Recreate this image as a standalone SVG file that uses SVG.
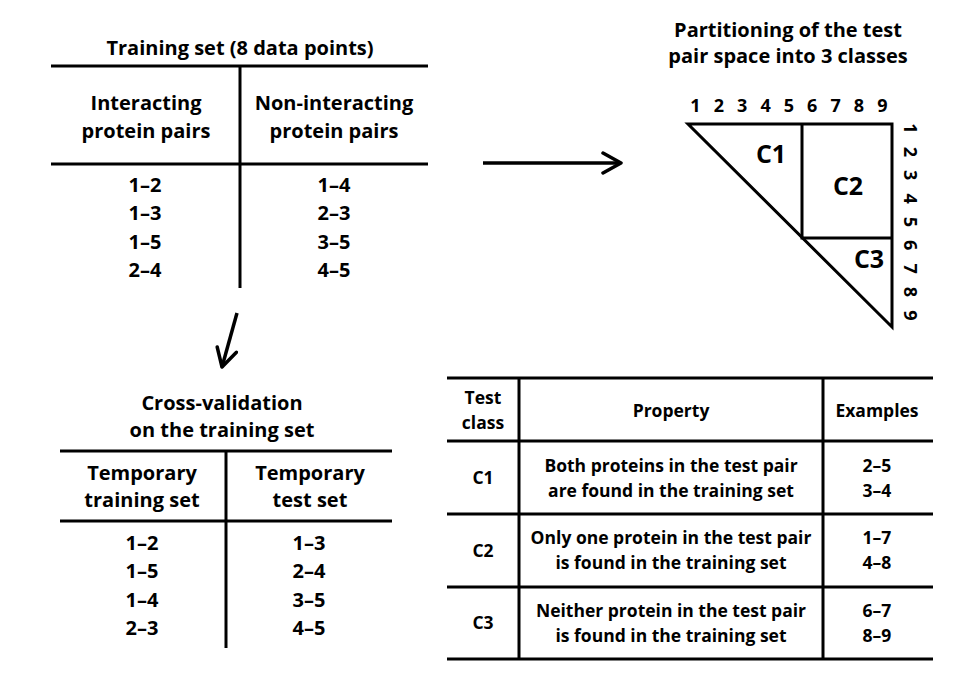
<svg xmlns="http://www.w3.org/2000/svg" width="958" height="678" viewBox="0 0 958 678">
<style>
text{font-family:"Open Sans","Noto Sans","Liberation Sans",sans-serif;font-weight:bold;fill:#000;text-anchor:middle}
.h{font-size:20px}
.t{font-size:17.5px}
.n{font-size:18px;letter-spacing:4.2px}
.c{font-size:25px}
.rule{stroke:#000;stroke-width:3;fill:none}
.arr{stroke:#000;stroke-width:3.5;fill:none}
</style>
<defs>
<marker id="chev" viewBox="0 0 12 12" refX="11" refY="6" markerUnits="userSpaceOnUse" markerWidth="24" markerHeight="24" orient="auto">
<path d="M2,1 L11,6 L2,11" fill="none" stroke="#000" stroke-width="1.75" stroke-linecap="round" stroke-linejoin="round"/>
</marker>
</defs>
<rect width="958" height="678" fill="#fff"/>

<g id="training-set">
<text class="h" x="240" y="55">Training set (8 data points)</text>
<line class="rule" x1="51" y1="66" x2="428" y2="66"/>
<line class="rule" x1="51" y1="164" x2="428" y2="164"/>
<line class="rule" x1="240" y1="66" x2="240" y2="288"/>
<text class="h" x="146" y="110">Interacting</text>
<text class="h" x="146" y="138">protein pairs</text>
<text class="h" x="334" y="110">Non-interacting</text>
<text class="h" x="334" y="138">protein pairs</text>
<text class="h" x="145" y="192">1–2</text>
<text class="h" x="145" y="220">1–3</text>
<text class="h" x="145" y="249">1–5</text>
<text class="h" x="145" y="277">2–4</text>
<text class="h" x="334" y="192">1–4</text>
<text class="h" x="334" y="220">2–3</text>
<text class="h" x="334" y="249">3–5</text>
<text class="h" x="334" y="277">4–5</text>
</g>

<g id="partitioning">
<text class="h" x="788" y="37">Partitioning of the test</text>
<text class="h" x="788" y="63">pair space into 3 classes</text>
<text class="n" x="791" y="112">1 2 3 4 5 6 7 8 9</text>
<text class="n" transform="translate(904,224) rotate(90)" x="0" y="0">1 2 3 4 5 6 7 8 9</text>
<path class="rule" d="M688,124 L892,124 L892,327 Z" stroke-linejoin="miter"/>
<path class="rule" d="M802,124 L802,238 L892,238"/>
<text class="c" x="771" y="163">C1</text>
<text class="c" x="848" y="195">C2</text>
<text class="c" x="869" y="268">C3</text>
</g>

<g id="cross-validation">
<text class="h" x="222" y="410">Cross-validation</text>
<text class="h" x="222" y="437">on the training set</text>
<line class="rule" x1="60" y1="451" x2="392" y2="451"/>
<line class="rule" x1="60" y1="521" x2="392" y2="521"/>
<line class="rule" x1="226" y1="451" x2="226" y2="648"/>
<text class="h" x="142" y="480">Temporary</text>
<text class="h" x="142" y="507">training set</text>
<text class="h" x="310" y="480">Temporary</text>
<text class="h" x="310" y="507">test set</text>
<text class="h" x="142" y="550">1–2</text>
<text class="h" x="142" y="578">1–5</text>
<text class="h" x="142" y="607">1–4</text>
<text class="h" x="142" y="635">2–3</text>
<text class="h" x="309" y="550">1–3</text>
<text class="h" x="309" y="578">2–4</text>
<text class="h" x="309" y="607">3–5</text>
<text class="h" x="309" y="635">4–5</text>
</g>

<g id="class-table">
<line class="rule" x1="447" y1="378" x2="933" y2="378"/>
<line class="rule" x1="447" y1="441" x2="933" y2="441"/>
<line class="rule" x1="447" y1="514" x2="933" y2="514"/>
<line class="rule" x1="447" y1="587" x2="933" y2="587"/>
<line class="rule" x1="447" y1="659" x2="933" y2="659"/>
<line class="rule" x1="519" y1="378" x2="519" y2="659"/>
<line class="rule" x1="823" y1="378" x2="823" y2="659"/>
<text class="t" x="483" y="404">Test</text>
<text class="t" x="483" y="429">class</text>
<text class="t" x="671" y="417">Property</text>
<text class="t" x="877" y="417">Examples</text>
<text class="t" x="483" y="484">C1</text>
<text class="t" x="671" y="472">Both proteins in the test pair</text>
<text class="t" x="671" y="497">are found in the training set</text>
<text class="t" x="877" y="472">2–5</text>
<text class="t" x="877" y="497">3–4</text>
<text class="t" x="483" y="557">C2</text>
<text class="t" x="671" y="544">Only one protein in the test pair</text>
<text class="t" x="671" y="569">is found in the training set</text>
<text class="t" x="877" y="544">1–7</text>
<text class="t" x="877" y="569">4–8</text>
<text class="t" x="483" y="629">C3</text>
<text class="t" x="671" y="617">Neither protein in the test pair</text>
<text class="t" x="671" y="642">is found in the training set</text>
<text class="t" x="877" y="617">6–7</text>
<text class="t" x="877" y="642">8–9</text>
</g>

<g id="connectors">
<line class="arr" x1="483" y1="163" x2="621" y2="163" marker-end="url(#chev)"/>
<line class="arr" x1="237" y1="313" x2="222" y2="367" marker-end="url(#chev)"/>
</g>
</svg>
